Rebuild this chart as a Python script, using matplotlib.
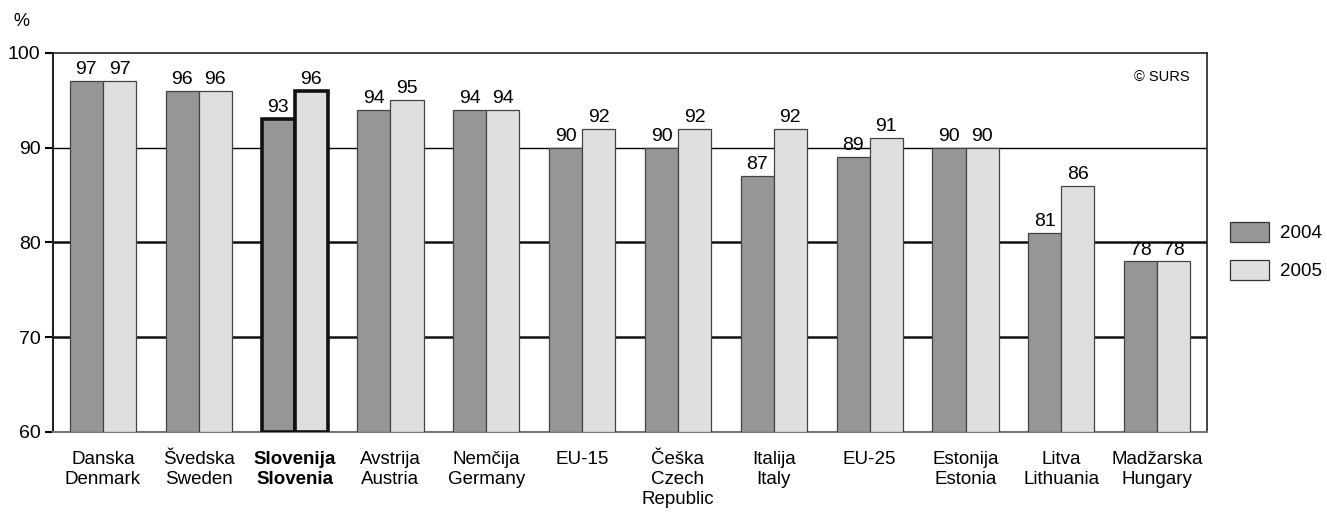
import matplotlib
matplotlib.use("Agg")
import matplotlib.pyplot as plt
import numpy as np

categories = ["Danska\nDenmark", "Švedska\nSweden", "Slovenija\nSlovenia", "Avstrija\nAustria",
              "Nemčija\nGermany", "EU-15", "Češka\nCzech\nRepublic", "Italija\nItaly", "EU-25",
              "Estonija\nEstonia", "Litva\nLithuania", "Madžarska\nHungary"]
v2004 = [97, 96, 93, 94, 94, 90, 90, 87, 89, 90, 81, 78]
v2005 = [97, 96, 96, 95, 94, 92, 92, 92, 91, 90, 86, 78]
series_labels = ["2004", "2005"]
highlight = 2

plt.rcParams['font.family'] = ['Liberation Sans', 'DejaVu Sans']

fig = plt.figure(figsize=(13.27, 5.13), dpi=100)
ax = fig.add_axes([0.040, 0.158, 0.8696, 0.739])

x = np.arange(len(categories))
w = 0.345
c1, c2 = "#969696", "#dfdfdf"
for i in range(len(categories)):
    lw = 2.6 if i == highlight else 0.9
    ec = "#111111" if i == highlight else "#444444"
    ax.bar(x[i] - w/2, v2004[i] - 60, w, bottom=60, color=c1, edgecolor=ec, linewidth=lw, zorder=3,
           label=series_labels[0] if i == 0 else None)
    ax.bar(x[i] + w/2, v2005[i] - 60, w, bottom=60, color=c2, edgecolor=ec, linewidth=lw, zorder=3,
           label=series_labels[1] if i == 0 else None)
    ax.text(x[i] - w/2, v2004[i] + 0.3, str(v2004[i]), ha="center", va="bottom", fontsize=14)
    ax.text(x[i] + w/2, v2005[i] + 0.3, str(v2005[i]), ha="center", va="bottom", fontsize=14)

ax.set_xlim(-0.52, len(categories) - 0.48)
ax.set_ylim(60, 100)
ax.set_yticks([60, 70, 80, 90, 100])
ax.tick_params(axis="y", labelsize=14, length=6, width=1.5, direction="out", pad=3)
ax.tick_params(axis="x", length=0, labelsize=13.5, pad=14)
ax.set_xticks(x)
ax.set_xticklabels(categories)
for i, lab in enumerate(ax.get_xticklabels()):
    lab.set_linespacing(1.2)
    if i == highlight:
        lab.set_fontweight("bold")

ax.axhline(90, color="black", linewidth=1.0, zorder=1)
for yv in [70, 80]:
    ax.axhline(yv, color="#111111", linewidth=1.8, zorder=1)

for s in ["top", "right", "left"]:
    ax.spines[s].set_color("#222222")
    ax.spines[s].set_linewidth(1.2)
ax.spines["left"].set_linewidth(1.5)
ax.spines["bottom"].set_color("#777777")
ax.spines["bottom"].set_linewidth(1.5)

ax.text(0.9845, 0.935, "© SURS", transform=ax.transAxes, ha="right", va="center", fontsize=10.5)
fig.text(0.010, 0.958, "%", fontsize=13, ha="left", va="center")

leg = ax.legend(loc="upper left", bbox_to_anchor=(1.0195, 0.555), frameon=False, fontsize=13.5,
                handlelength=2.1, handleheight=1.3, labelspacing=0.95, handletextpad=0.6,
                borderaxespad=0, borderpad=0)
for h in leg.legend_handles:
    h.set_edgecolor("#333333")
    h.set_linewidth(0.9)

fig.savefig("out.png", dpi=100)
